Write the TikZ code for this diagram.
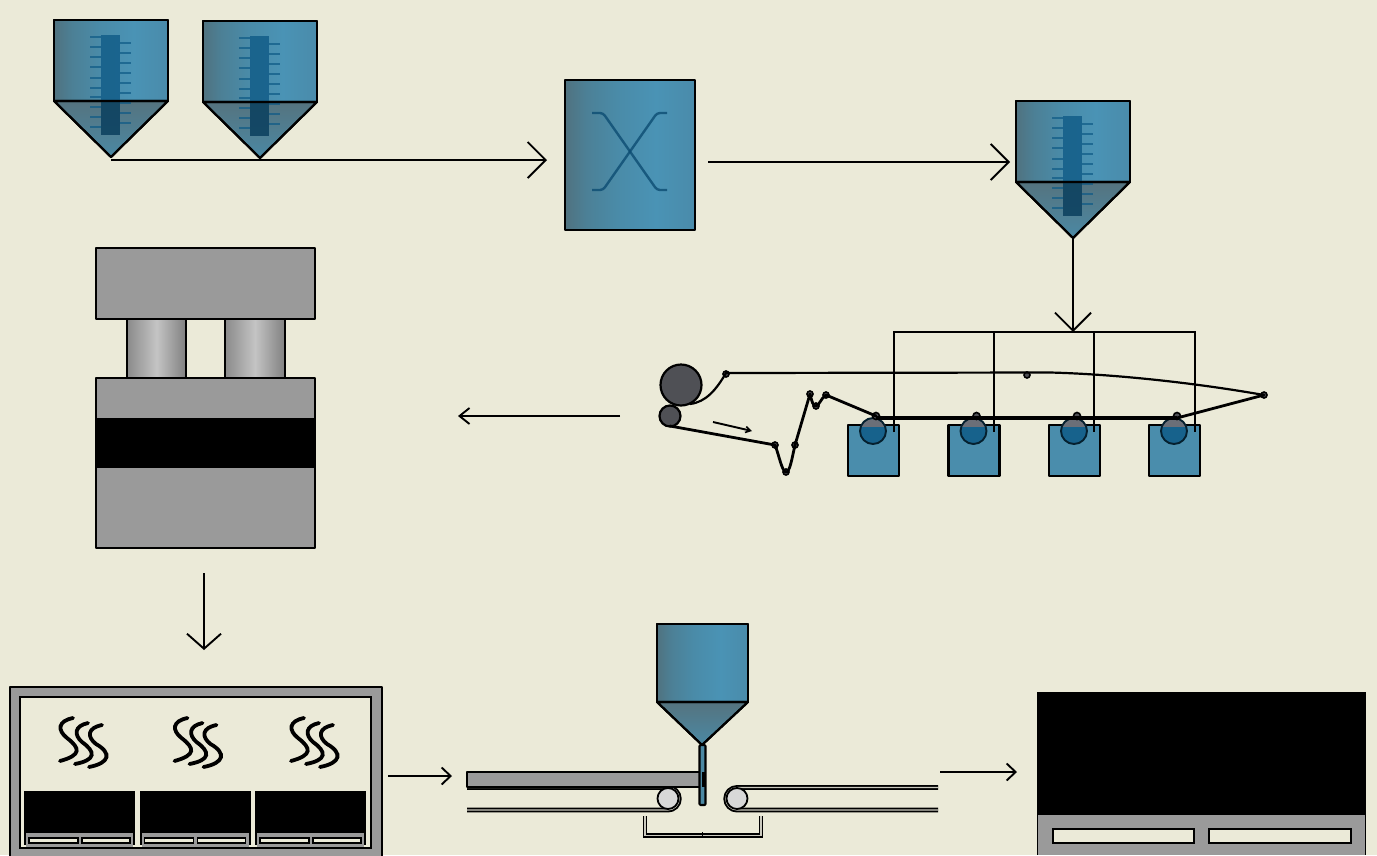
\documentclass[tikz,border=0pt]{standalone}
\usetikzlibrary{arrows.meta}
\definecolor{bgc}{HTML}{EBEAD8}
\definecolor{grayc}{HTML}{9A9A9A}
\definecolor{tankc}{HTML}{4A8DAC}
\definecolor{screwc}{HTML}{0E5A86}
\definecolor{rollc}{HTML}{4F5055}
\definecolor{rollgray}{HTML}{6B6F78}
\definecolor{c1}{HTML}{50727F}
\definecolor{c2}{HTML}{4C8096}
\definecolor{c3}{HTML}{4A8BA8}
\definecolor{c4}{HTML}{4A93B5}
\definecolor{c5}{HTML}{4A8BAA}
\definecolor{d1}{HTML}{8A8A8A}
\definecolor{d2}{HTML}{C4C4C4}
\definecolor{d3}{HTML}{808080}
\pgfdeclarehorizontalshading{hopshade}{100bp}{color(0bp)=(c1); color(25bp)=(c1); color(33bp)=(c2); color(45bp)=(c3); color(60bp)=(c4); color(75bp)=(c5); color(100bp)=(c5)}
\pgfdeclarehorizontalshading{columnshade}{100bp}{color(0bp)=(d1); color(25bp)=(d1); color(50bp)=(d2); color(75bp)=(d3); color(100bp)=(d3)}
\tikzset{
  every node/.style={outer sep=0pt},
  wire/.style={line width=2.2pt,black},
  bigflow/.style={line width=1.9pt,black,-{Straight Barb[length=18pt,width=36pt,line width=1.9pt]}},
  smallflow/.style={line width=1.9pt,black,-{Straight Barb[length=10pt,width=16pt,line width=1.9pt]}},
  unit/.style={draw=black,line width=2.1pt,line join=round},
  grayunit/.style={unit,fill=grayc},
  hopbody/.style={unit,shading=hopshade},
  hopcone/.style={unit,top color=c1!90!gray,bottom color=c3!90!c1},
  tooth/.style={line width=2pt,screwc,opacity=.7},
  web/.style={line width=2.8pt,black,line join=round,line cap=round},
  knob/.style={circle,draw=black,line width=1.6pt,fill=rollc,inner sep=0pt,minimum size=6pt},
  steam/.style={line width=3.8pt,black,line cap=round},
  doublebelt/.style={line width=1.9pt,black,double=grayc!40!bgc,double distance=1.1pt,line join=round},
  slot/.style={draw=black,line width=2pt,fill=bgc},
}
\newcommand{\feedhopper}[3]{%
 \begin{scope}[shift={(#2,#3)}]
  \path[hopbody] (0,0) rectangle (114,81);
  \path[hopcone] (0,81) -- (114,81) -- (57,137) -- cycle;
  \fill[screwc,opacity=.8] (46.5,15) rectangle (66,115);
  \fill[black,opacity=.25] (46.5,81) rectangle (66,115);
  \foreach \yy in {17,27,37,47,58,68,77,87,97,107} \draw[tooth] (36,\yy) -- (46.5,\yy);
  \foreach \yy in {23,33,43,53,63,73,83,93,103} \draw[tooth] (66,\yy) -- (77,\yy);
  \draw[unit] (0,0) rectangle (114,81);
  \draw[unit] (0,81) -- (114,81) -- (57,137) -- cycle;
  \coordinate (#1) at (57,137);
 \end{scope}}
\newcommand{\dipbath}[2]{%
 \begin{scope}[shift={(#2,0)}]
  \node[unit,fill=tankc,minimum width=51pt,minimum height=51pt,inner sep=0pt,anchor=north west] (#1) at (848,425) {};
  \begin{scope}
   \clip (873,431) circle[radius=13pt];
   \fill[rollgray] (855,415) rectangle (891,427);
   \fill[screwc!85!tankc] (855,427) rectangle (891,447);
  \end{scope}
  \node[circle,draw=black!65!screwc,line width=1.9pt,minimum size=26pt,inner sep=0pt] (#1roll) at (873,431) {};
  \node[knob,minimum size=7pt] (#1k) at (876,416) {};
 \end{scope}}
\newcommand{\steamgroup}[1]{%
 \begin{scope}[shift={(#1,0)}]
  \draw[steam] (73,718) .. controls (58,721) and (57,730) .. (67,738) .. controls (80,748) and (82,755) .. (60,761);
  \draw[steam] (88,723) .. controls (74,726) and (74,735) .. (82,742) .. controls (96,752) and (96,760) .. (75,764);
  \draw[steam] (102,725) .. controls (87,728) and (87,737) .. (96,744) .. controls (112,753) and (110,763) .. (89,767);
 \end{scope}}
\newcommand{\ovenbay}[2]{%
 \begin{scope}[shift={(#2,0)}]
  \node[fill=black,minimum width=111pt,minimum height=54pt,inner sep=0pt,anchor=north west] (#1) at (24,791) {};
  \fill[grayc] (26,833) rectangle (133,847);
  \draw[slot,line width=1.4pt] (29,838) rectangle (78,843);
  \draw[slot,line width=1.4pt] (82,838) rectangle (130,843);
 \end{scope}}
\begin{document}
\begin{tikzpicture}[x=1pt,y=-1pt]
\useasboundingbox (0,0) rectangle (1377,855);
\fill[bgc] (0,0) rectangle (1377,855);
\begin{scope}
\clip (0,0) rectangle (1377,855);

% feed hoppers
\feedhopper{hopA}{54}{20}
\feedhopper{hopB}{203}{21}
\feedhopper{hopC}{1016}{101}

% mixer
\node[hopbody,minimum width=130pt,minimum height=150pt,inner sep=0pt,anchor=north west] (mixer) at (565,80) {};
\draw[line width=2.4pt,screwc!85!black,opacity=.8,rounded corners=3pt] (592,113) -- (603,113) -- (657,190) -- (667,190);
\draw[line width=2.4pt,screwc!85!black,opacity=.8,rounded corners=3pt] (667,113) -- (657,113) -- (603,190) -- (592,190);

% press
\node[grayunit,minimum width=59pt,minimum height=60pt,inner sep=0pt,anchor=north west,shading=columnshade,draw=black] (colA) at (127,319) {};
\node[grayunit,minimum width=60pt,minimum height=60pt,inner sep=0pt,anchor=north west,shading=columnshade,draw=black] (colB) at (225,319) {};
\node[grayunit,minimum width=219pt,minimum height=71pt,inner sep=0pt,anchor=north west] (pressTop) at (96,248) {};
\node[grayunit,minimum width=219pt,minimum height=170pt,inner sep=0pt,anchor=north west] (pressBase) at (96,378) {};
\node[fill=black,minimum width=220pt,minimum height=50pt,inner sep=0pt,anchor=north west] (pressBand) at (96,418) {};

% impregnation line
\dipbath{bathA}{0}
\dipbath{bathB}{100.5}
\dipbath{bathC}{201}
\dipbath{bathD}{301}
\coordinate (dTop) at (1073,332);
\draw[wire] (894,432) -- (894,332) -- (1195,332) -- (1195,432);
\draw[wire] (994,332) -- (994,432);
\draw[wire] (1094,332) -- (1094,432);

\node[circle,draw=black,line width=2.2pt,fill=rollc,minimum size=41pt,inner sep=0pt] (rollBig) at (681,385) {};
\node[circle,draw=black,line width=2.2pt,fill=rollc,minimum size=21pt,inner sep=0pt] (rollSmall) at (670,416) {};
\node[knob] (k1) at (726,374) {};
\node[knob] (k2) at (775,445) {};
\node[knob] (k3) at (786,472) {};
\node[knob] (k4) at (795,445) {};
\node[knob] (k5) at (810,394) {};
\node[knob] (k6) at (816,406) {};
\node[knob] (k7) at (826,395) {};
\node[knob,minimum size=6pt] (k8) at (1027,375) {};
\node[knob] (k9) at (1264,395) {};
\coordinate (w1) at (690,404);
\coordinate (w2) at (670,426);
\draw[wire] (w1) .. controls (706,402) and (716,390) .. (726,373) -- (1050,372.5) .. controls (1110,374) and (1190,382) .. (k9.center);
\draw[web] (k9.center) -- (1177,418);
\draw[web] (w2) -- (k2.center) .. controls (779,455) and (782,472) .. (k3.center) .. controls (790,472) and (792,458) .. (k4.center) -- (k5.center) .. controls (812,402) and (813,406) .. (k6.center) .. controls (819,406) and (821,398) .. (k7.center) -- (bathAk.center);
\draw[line width=3.4pt,black] (bathAk.center) ++(0,2) -- (1177,418);
\coordinate (smS) at (713,422);
\coordinate (smE) at (752,431);
\draw[line width=1.9pt,black,-{Straight Barb[length=5pt,width=6pt,line width=1.6pt]}] (smS) -- (smE);

% oven
\node[grayunit,minimum width=372pt,minimum height=175pt,inner sep=0pt,anchor=north west] (oven) at (10,687) {};
\node[draw=black,line width=2pt,fill=bgc,minimum width=351pt,minimum height=151pt,inner sep=0pt,anchor=north west] (ovenIn) at (20,697) {};
\steamgroup{0}
\steamgroup{114.5}
\steamgroup{231}
\ovenbay{bayA}{0}
\ovenbay{bayB}{115.5}
\ovenbay{bayC}{231}

% coating station
\draw[doublebelt] (467,787.5) -- (668,787.5) arc[start angle=90,end angle=-90,radius=11.25pt] -- (467,810);
\draw[doublebelt] (938,787.5) -- (737,787.5) arc[start angle=90,end angle=270,radius=11.25pt] -- (938,810);
\node[circle,draw=black,line width=1.8pt,fill=black!3!gray!30!white,minimum size=21pt,inner sep=0pt] (pulL) at (668,798.5) {};
\node[circle,draw=black,line width=1.8pt,fill=black!3!gray!30!white,minimum size=21pt,inner sep=0pt] (pulR) at (737,798.5) {};
\draw[unit,fill=grayc] (467,772) rectangle (703,787);
\path[hopbody] (657,624) rectangle (748,702);
\path[hopcone] (657,702) -- (748,702) -- (702,745) -- cycle;
\draw[unit] (657,624) rectangle (748,702);
\draw[unit] (657,702) -- (748,702) -- (702,745) -- cycle;
\draw[unit,fill=tankc!80!c1,rounded corners=1pt] (699.5,745) rectangle (705.5,805);
\fill[black] (702,772) rectangle (705.5,787);
\draw[line width=1.9pt,black,double=grayc!40!bgc,double distance=1.1pt,line join=miter] (645,816) -- (645,835.5) -- (761,835.5) -- (761,816);
\draw[line width=1pt,black] (702,832) -- (702,836);

% final product
\node[fill=black,minimum width=329pt,minimum height=124pt,inner sep=0pt,anchor=north west] (finTop) at (1037,692) {};
\fill[grayc] (1038,815) rectangle (1365.5,855);
\draw[black,line width=1pt] (1037.5,815) -- (1037.5,855) (1365.5,815) -- (1365.5,855);
\draw[slot] (1053,829) rectangle (1194,843);
\draw[slot] (1209,829) rectangle (1351,843);

% connectors
\coordinate (a1s) at (111,160); \coordinate (a1e) at (547,160);
\draw[bigflow] (a1s) -- (a1e);
\coordinate (a2s) at (708,162); \coordinate (a2e) at (1010,162);
\draw[bigflow] (a2s) -- (a2e);
\draw[bigflow] (hopC) -- (dTop);
\coordinate (a4s) at (620,416); \coordinate (a4e) at (458,416);
\draw[smallflow] (a4s) -- (a4e);
\coordinate (a5s) at (204,573); \coordinate (a5e) at (204,650);
\draw[line width=1.9pt,black,-{Straight Barb[length=15pt,width=34pt,line width=1.9pt]}] (a5s) -- (a5e);
\coordinate (a6s) at (388,776); \coordinate (a6e) at (452,776);
\draw[line width=1.9pt,black,-{Straight Barb[length=9pt,width=17pt,line width=1.9pt]}] (a6s) -- (a6e);
\coordinate (a7s) at (940,772); \coordinate (a7e) at (1017,772);
\draw[line width=1.9pt,black,-{Straight Barb[length=9pt,width=17pt,line width=1.9pt]}] (a7s) -- (a7e);
\end{scope}
\end{tikzpicture}
\end{document}
